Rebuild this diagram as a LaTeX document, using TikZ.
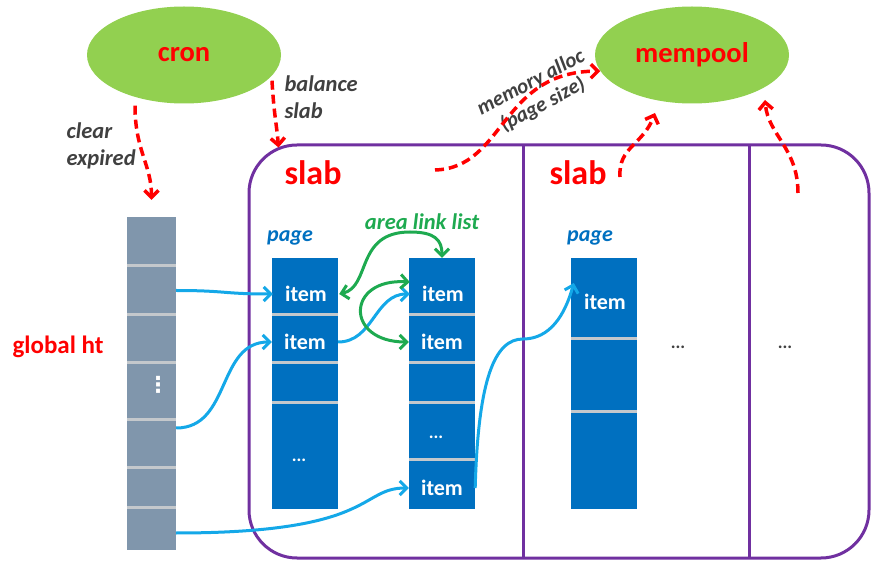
\documentclass[tikz,border=0pt]{standalone}
\usepackage{fontspec}
\setmainfont{Carlito}
\newfontfamily\symbfont{DejaVu Sans}
\usetikzlibrary{arrows.meta,shapes.geometric,positioning}
\definecolor{cronfill}{HTML}{92D050}
\definecolor{slabedge}{HTML}{7030A0}
\definecolor{pageblue}{HTML}{0070C0}
\definecolor{htgray}{HTML}{8096AC}
\definecolor{sepgray}{HTML}{C4C8CC}
\definecolor{linkcyan}{HTML}{14A8E8}
\definecolor{areagreen}{HTML}{1EAA50}
\definecolor{notegray}{HTML}{404040}

\begin{document}
\begin{tikzpicture}[x=1pt,y=-1pt,>={Straight Barb[length=7pt,width=14pt]}]
	\tikzstyle{poolnode}=[ellipse,fill=cronfill,draw=none,minimum width=194pt,minimum height=97pt,
		text=red,font=\fontsize{28.5}{30}\selectfont\bfseries]
	\tikzstyle{pagecol}=[rectangle,fill=pageblue,draw=none,minimum width=66pt,minimum height=251pt,inner sep=0pt]
	\tikzstyle{htcell}=[rectangle,fill=htgray,draw=none,minimum width=49pt,inner sep=0pt]
	\tikzstyle{itemtext}=[minimum width=66pt,inner sep=0pt,text=white,font=\fontsize{22}{24}\selectfont\bfseries]
	\tikzstyle{dotstext}=[inner sep=0pt,text=white,font=\fontsize{18}{18}\selectfont\bfseries]
	\tikzstyle{rowline}=[draw=sepgray,line width=3pt]
	\tikzstyle{slabline}=[draw=slabedge,line width=3pt]
	\tikzstyle{slabtitle}=[text=red,font=\fontsize{34}{36}\selectfont\bfseries]
	\tikzstyle{pagetitle}=[text=pageblue,font=\fontsize{22}{24}\selectfont\bfseries\itshape]
	\tikzstyle{notetext}=[text=notegray,font=\fontsize{22.5}{27}\selectfont\bfseries\itshape,align=left]
	\tikzstyle{reflink}=[->,draw=linkcyan,line width=3pt]
	\tikzstyle{arealink}=[<->,draw=areagreen,line width=3pt]
	\tikzstyle{cronjob}=[->,draw=red,line width=3.5pt,dash pattern=on 9pt off 5pt]
	\useasboundingbox (0,0) rectangle (871,561);

	\node[poolnode] (cron) at (184,55) {cron};
	\node[poolnode] (mempool) at (692,55) {mempool};

	\node[slabline,rounded corners=48pt,minimum width=620pt,minimum height=413pt] (slabs) at (559,351.5) {};
	\draw[slabline] (523,145) -- (523,558);
	\draw[slabline] (749,145) -- (749,558);
	\node[slabtitle] (slab1) at (313,173) {slab};
	\node[slabtitle] (slab2) at (578,173) {slab};

	\foreach \ya/\yb [count=\i] in {217/266,266/315,315/363,363/420,420/468,468/508,508/550}
		\node[htcell,minimum height=\yb-\ya] (ht\i) at (151.5,{(\ya+\yb)/2}) {};
	\foreach \i in {2,...,7}
		\draw[rowline] (ht\i.north west) -- (ht\i.north east);
	\node[inner sep=0pt,text=white,font=\fontsize{22}{22}\selectfont\symbfont\bfseries] (htdots) at (158,385) {⋮};
	\node[text=red,font=\fontsize{25}{28}\selectfont\bfseries] (htlabel) at (58,347) {global ht};

	\node[pagecol] (p1) at (305,383.5) {};
	\node[pagecol] (p2) at (442,383.5) {};
	\node[pagecol] (p3) at (604,383.5) {};
	\foreach \y in {315,363,403}
		\draw[rowline] (p1.west |- 0,\y) -- (p1.east |- 0,\y);
	\foreach \y in {315,363,403,460}
		\draw[rowline] (p2.west |- 0,\y) -- (p2.east |- 0,\y);
	\foreach \y in {339,412}
		\draw[rowline] (p3.west |- 0,\y) -- (p3.east |- 0,\y);
	\node[pagetitle] (page1) at (290,238) {page};
	\node[pagetitle] (page3) at (590,238) {page};
	\node[text=areagreen,font=\fontsize{22.5}{24}\selectfont\bfseries\itshape] (arealabel) at (422,222) {area link list};

	\node[itemtext] (p1i1) at (306,294) {item};
	\node[itemtext] (p1i2) at (305,342) {item};
	\node[dotstext] (p1dots) at (299,460) {...};
	\node[itemtext] (p2i1) at (443,294) {item};
	\node[itemtext] (p2i2) at (442,342) {item};
	\node[dotstext] (p2dots) at (436,437) {...};
	\node[itemtext] (p2i3) at (442,488) {item};
	\node[itemtext] (p3i1) at (605,302) {item};
	\node[dotstext,text=notegray] (more1) at (678,347) {...};
	\node[dotstext,text=notegray] (more2) at (785,347) {...};

	\draw[reflink] (ht2.east) .. controls +(50,0) and +(-50,0) .. (p1i1.west);
	\draw[reflink] ([yshift=16pt]ht5.east) .. controls +(55,0) and +(-55,0) .. (p1i2.west);
	\draw[reflink] ([yshift=-4pt]ht7.east) .. controls +(200,0) and +(-50,0) .. (p2i3.west);
	\draw[reflink] (p1i2.east) .. controls +(35,0) and +(-35,0) .. (p2i1.west);
	\draw[reflink] (p2i3.east) .. controls +(3,-110) and (495,339) .. (523,339)
		.. controls (550,339) and (565,315) .. ([shift={(2pt,19pt)}]p3i1.west);

	\draw[arealink] (p1i1.east) .. controls +(32,-7) and (355,232) .. (410,232)
		.. controls (435,232) and (442,240) .. (p2.north);
	\draw[arealink] ([yshift=12pt]p2i1.west) .. controls +(-64,-4) and +(-64,0) .. (p2i2.west);

	\node[notetext,anchor=west] (clearnote) at (63,146) {clear\\expired};
	\node[notetext,anchor=west] (balancenote) at (281,97) {balance\\slab};
	\node[notetext,align=center,rotate=28,font=\fontsize{21}{25}\selectfont\bfseries\itshape] (allocnote) at (537,94) {memory alloc\\(page size)};
	\coordinate (allocsrc) at (435,170);
	\coordinate (slabsrc) at (620,177);
	\coordinate (moresrc) at (798,193);

	\draw[cronjob] ([shift={(-49pt,-2pt)}]cron.south) .. controls +(0,45) and +(0,-35) .. ([yshift=17pt]ht1.north);
	\draw[cronjob] ([shift={(88pt,23pt)}]cron.south) .. controls +(2,35) and +(-2,-25) .. ([shift={(31pt,-4pt)}]slabs.north west);
	\draw[cronjob] (allocsrc) .. controls +(70,-2) and +(-100,0) .. (mempool.190);
	\draw[cronjob] (slabsrc) .. controls +(-2,-30) and +(-12,32) .. ([shift={(-37pt,-58pt)}]mempool.center);
	\draw[cronjob] (moresrc) .. controls +(0,-45) and +(3,35) .. ([shift={(73pt,-45pt)}]mempool.center);
\end{tikzpicture}
\end{document}
